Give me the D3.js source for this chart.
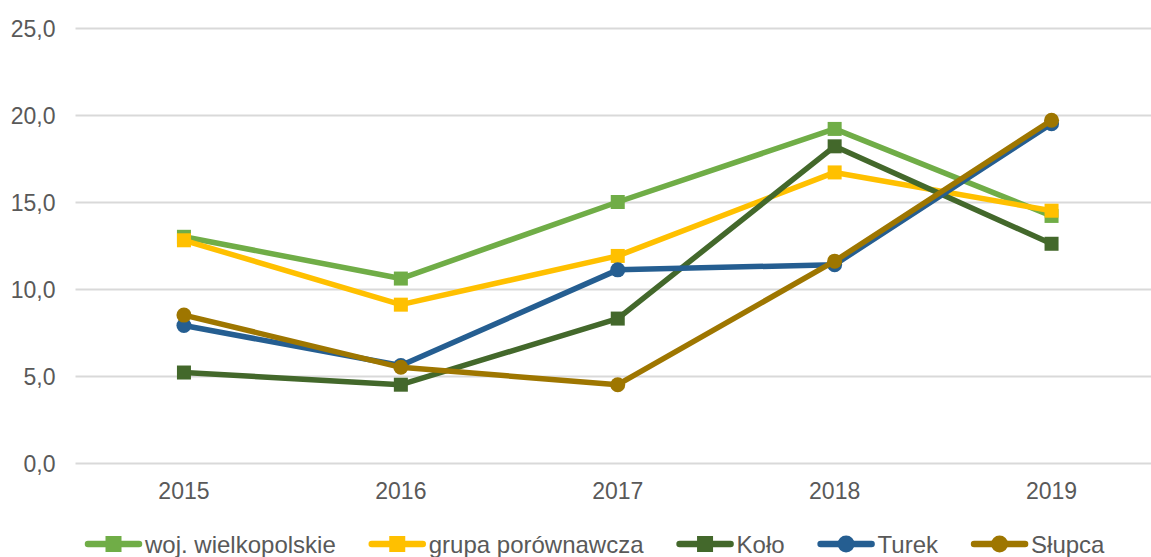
<!DOCTYPE html>
<html>
<head>
<meta charset="utf-8">
<script src="https://cdn.jsdelivr.net/npm/d3@7"></script>
<style>
  body { margin: 0; background: #fff; }
  svg { display: block; font-family: "Liberation Sans", Arial, sans-serif; }
</style>
</head>
<body>
<svg id="chart"></svg>
<script>
// data
var years = ["2015", "2016", "2017", "2018", "2019"]
var yTicks = [0, 5, 10, 15, 20, 25]

var wielkopolskie = [13.0, 10.6, 15.0, 19.2, 14.2]
var grupa = [12.8, 9.1, 11.9, 16.7, 14.5]
var kolo = [5.2, 4.5, 8.3, 18.2, 12.6]
var turek = [7.9, 5.6, 11.1, 11.4, 19.5]
var slupca = [8.5, 5.5, 4.5, 11.6, 19.7]

var series = [
    {name: "woj. wielkopolskie", values: wielkopolskie, color: "#70AD47", marker: "square"},
    {name: "grupa porównawcza", values: grupa, color: "#FFC000", marker: "square"},
    {name: "Koło", values: kolo, color: "#43682B", marker: "square"},
    {name: "Turek", values: turek, color: "#255E91", marker: "circle"},
    {name: "Słupca", values: slupca, color: "#9E7600", marker: "circle"}
]

var width = 1151, height = 557
var margin = {left: 75.5, right: -9, top: 28, bottom: 94}

var svg = d3.select("#chart")
    .attr("width", width)
    .attr("height", height)

var x = d3.scaleBand()
    .domain(years)
    .range([margin.left, width - margin.right])

var y = d3.scaleLinear()
    .domain([0, 25])
    .range([height - margin.bottom, margin.top])

// gridlines + y labels
var yAxis = svg.append("g")
    .attr("transform", "translate(" + margin.left + ",0)")
    .call(d3.axisLeft(y)
        .tickValues(yTicks)
        .tickSize(-(width - margin.right - margin.left))
        .tickPadding(20)
        .tickFormat(d => d3.format(".1f")(d).replace(".", ",")))
yAxis.select(".domain").remove()
yAxis.selectAll(".tick line").attr("stroke", "#D9D9D9").attr("stroke-width", 2)
yAxis.selectAll(".tick text")
    .attr("fill", "#595959")
    .style("font-size", "23px")
    .attr("dy", "0.36em")

// x labels
var xAxis = svg.append("g")
    .attr("transform", "translate(0," + (height - margin.bottom) + ")")
    .call(d3.axisBottom(x).tickSize(0).tickPadding(20))
xAxis.select(".domain").remove()
xAxis.selectAll(".tick text")
    .attr("fill", "#595959")
    .style("font-size", "23px")

var line = d3.line()
    .x((d, i) => x(years[i]) + x.bandwidth() / 2)
    .y(d => y(d))

function drawMarker(g, s, cx, cy, size) {
    if (s.marker == "square") {
        g.append("rect")
            .attr("x", cx - size / 2).attr("y", cy - size / 2)
            .attr("width", size).attr("height", size)
            .attr("fill", s.color)
    } else {
        g.append("circle")
            .attr("cx", cx).attr("cy", cy).attr("r", size / 2 + 0.5)
            .attr("fill", s.color)
    }
}

series.forEach(function(s) {
    var g = svg.append("g")
    g.append("path")
        .datum(s.values)
        .attr("fill", "none")
        .attr("stroke", s.color)
        .attr("stroke-width", 5.5)
        .attr("stroke-linejoin", "round")
        .attr("d", line)
    s.values.forEach(function(v, i) {
        drawMarker(g, s, x(years[i]) + x.bandwidth() / 2, y(v), 14)
    })
})

// legend
var legend = svg.append("g").attr("transform", "translate(85,544)")
var lx = 0
series.forEach(function(s) {
    var item = legend.append("g").attr("transform", "translate(" + lx + ",0)")
    item.append("line")
        .attr("x1", 3).attr("x2", 54)
        .attr("stroke", s.color)
        .attr("stroke-width", 6.5)
        .attr("stroke-linecap", "round")
    drawMarker(item, s, 28.5, 0, 16)
    var t = item.append("text")
        .attr("x", 60)
        .attr("dy", "0.36em")
        .attr("fill", "#595959")
        .style("font-size", "24px")
        .text(s.name)
    lx += 60 + t.node().getComputedTextLength() + 33
})
</script>
</body>
</html>
